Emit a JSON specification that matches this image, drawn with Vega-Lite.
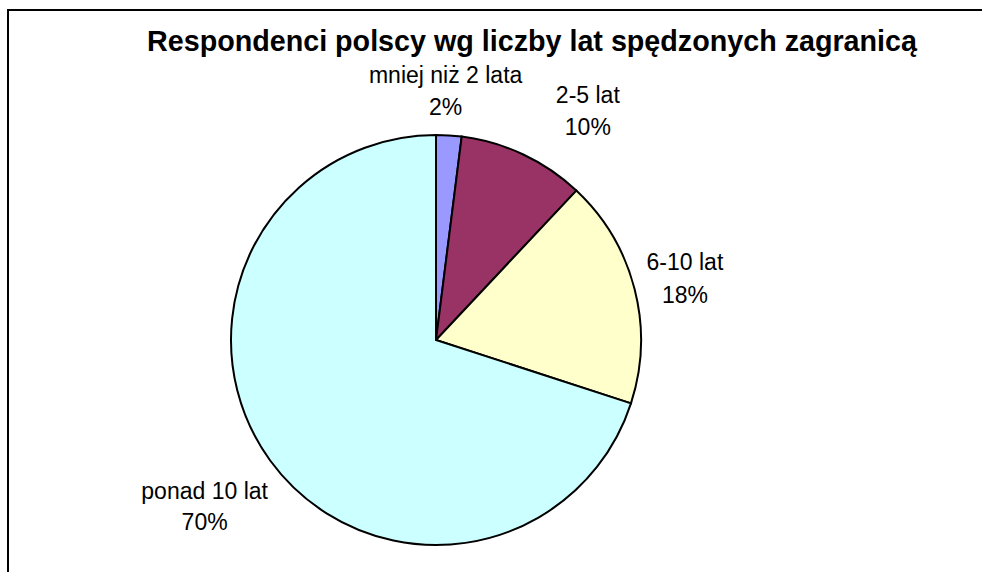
{
  "$schema": "https://vega.github.io/schema/vega-lite/v6.json",
  "width": 1100,
  "height": 700,
  "autosize": {"type": "none"},
  "padding": {"left": 8, "top": 10, "right": 0, "bottom": 0},
  "background": "white",
  "config": {
    "view": {"stroke": "black", "strokeWidth": 2},
    "font": "Liberation Sans"
  },
  "title": {
    "text": "Respondenci polscy wg liczby lat  spędzonych zagranicą",
    "anchor": "start",
    "frame": "group",
    "dx": 139,
    "offset": 0,
    "dy": 72,
    "baseline": "alphabetic",
    "fontSize": 28.7,
    "fontWeight": "bold",
    "font": "Liberation Sans",
    "color": "black"
  },
  "data": {
    "values": [
      {"kategoria": "mniej niż 2 lata", "procent": 2, "lp": 1, "etykieta": "mniej niż 2 lata\n2%"},
      {"kategoria": "2-5 lat", "procent": 10, "lp": 2, "etykieta": "2-5 lat\n10%"},
      {"kategoria": "6-10 lat", "procent": 18, "lp": 3, "etykieta": "6-10 lat\n18%"},
      {"kategoria": "ponad 10 lat", "procent": 70, "lp": 4, "etykieta": "ponad 10 lat\n70%"}
    ]
  },
  "layer": [
    {
      "mark": {"type": "point", "opacity": 0},
      "encoding": {
        "x": {"datum": 0, "type": "quantitative", "axis": null},
        "y": {"datum": 0, "type": "quantitative", "axis": null}
      }
    },
    {
      "mark": {"type": "arc", "x": 428, "y": 330, "outerRadius": 205, "stroke": "black", "strokeWidth": 2},
      "encoding": {
        "theta": {"field": "procent", "type": "quantitative", "stack": true},
        "order": {"field": "lp", "type": "quantitative"},
        "color": {
          "field": "kategoria",
          "type": "nominal",
          "scale": {
            "domain": ["mniej niż 2 lata", "2-5 lat", "6-10 lat", "ponad 10 lat"],
            "range": ["#9999FF", "#993366", "#FFFFCC", "#CCFFFF"]
          },
          "legend": null
        }
      }
    },
    {
      "mark": {"type": "text", "x": 428, "y": 330, "radius": 249, "dx": -6, "dy": -15, "fontSize": 23, "lineBreak": "\n", "lineHeight": 32, "align": "center", "baseline": "middle", "color": "black"},
      "encoding": {
        "theta": {"field": "procent", "type": "quantitative", "stack": true},
        "order": {"field": "lp", "type": "quantitative"},
        "text": {"condition": {"test": "datum.kategoria === 'mniej niż 2 lata'", "field": "etykieta"}, "value": ""}
      }
    },
    {
      "mark": {"type": "text", "x": 428, "y": 330, "radius": 272, "dx": 36, "dy": 2, "fontSize": 23, "lineBreak": "\n", "lineHeight": 32, "align": "center", "baseline": "middle", "color": "black"},
      "encoding": {
        "theta": {"field": "procent", "type": "quantitative", "stack": true},
        "order": {"field": "lp", "type": "quantitative"},
        "text": {"condition": {"test": "datum.kategoria === '2-5 lat'", "field": "etykieta"}, "value": ""}
      }
    },
    {
      "mark": {"type": "text", "x": 428, "y": 330, "radius": 257, "dy": -13, "fontSize": 23, "lineBreak": "\n", "lineHeight": 33, "align": "center", "baseline": "middle", "color": "black"},
      "encoding": {
        "theta": {"field": "procent", "type": "quantitative", "stack": true},
        "order": {"field": "lp", "type": "quantitative"},
        "text": {"condition": {"test": "datum.kategoria === '6-10 lat'", "field": "etykieta"}, "value": ""}
      }
    },
    {
      "mark": {"type": "text", "x": 428, "y": 330, "radius": 286, "dy": -16, "fontSize": 23, "lineBreak": "\n", "lineHeight": 31, "align": "center", "baseline": "middle", "color": "black"},
      "encoding": {
        "theta": {"field": "procent", "type": "quantitative", "stack": true},
        "order": {"field": "lp", "type": "quantitative"},
        "text": {"condition": {"test": "datum.kategoria === 'ponad 10 lat'", "field": "etykieta"}, "value": ""}
      }
    }
  ]
}
